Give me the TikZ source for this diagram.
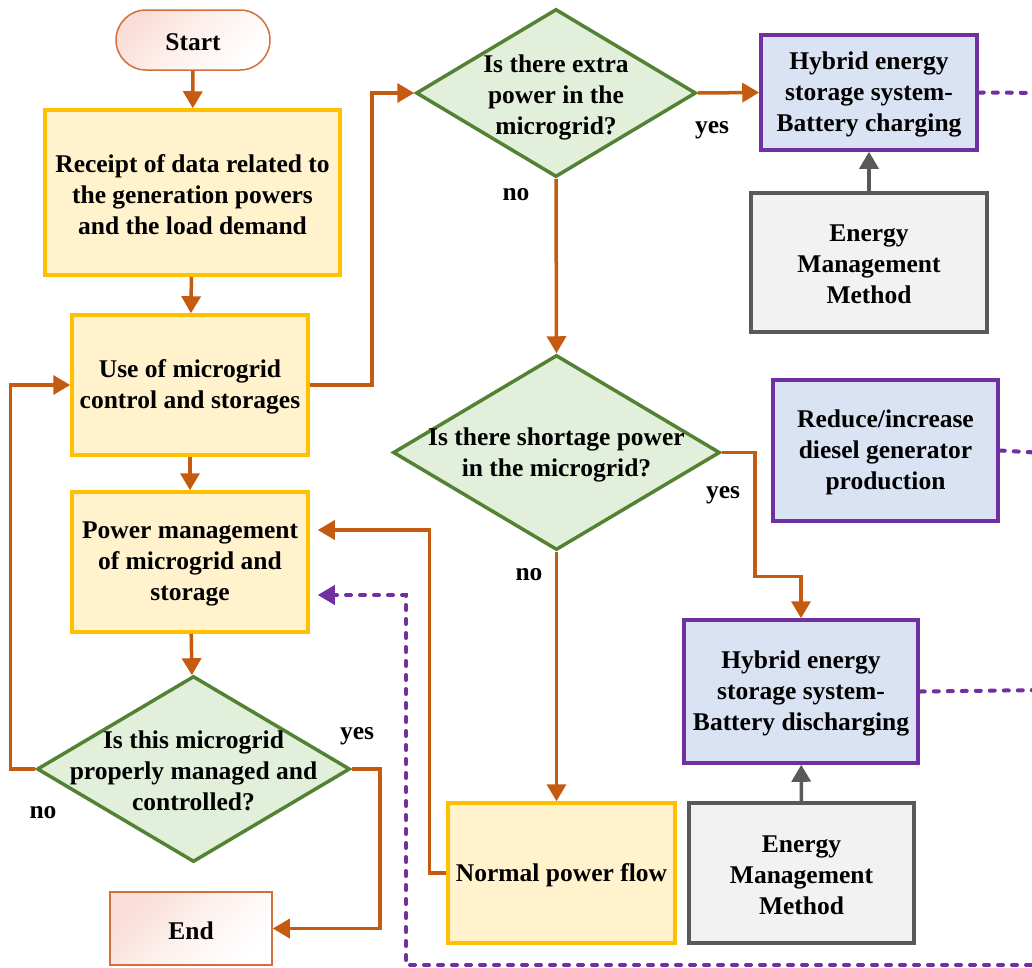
\documentclass[tikz,border=0pt]{standalone}
\usepackage{fontspec}
\setmainfont{Liberation Serif}
\usetikzlibrary{shapes.geometric,arrows.meta,calc}
\definecolor{conn}{HTML}{C55A11}
\definecolor{ylw}{HTML}{FFC000}
\definecolor{ylwfill}{HTML}{FFF2CC}
\definecolor{grn}{HTML}{548235}
\definecolor{grnfill}{HTML}{E2EFDA}
\definecolor{purp}{HTML}{7030A0}
\definecolor{bluefill}{HTML}{DAE3F3}
\definecolor{gry}{HTML}{595959}
\definecolor{gryfill}{HTML}{F2F2F2}
\definecolor{term}{HTML}{D0703A}
\definecolor{termfill}{HTML}{FADDD6}
\begin{document}
\begin{tikzpicture}[x=1pt,y=-1pt,
  every node/.style={font=\fontsize{25.5}{31}\selectfont\bfseries, align=center, inner sep=0pt},
  txt/.style={yshift=-2pt},
  ybox/.style={draw=ylw, fill=ylwfill, line width=3.5pt, rectangle},
  pbox/.style={draw=purp, fill=bluefill, line width=3.5pt, rectangle},
  gbox/.style={draw=gry, fill=gryfill, line width=3.5pt, rectangle},
  dia/.style={draw=grn, fill=grnfill, line width=3.5pt, shape=diamond, inner sep=0pt},
  termbox/.style={draw=term, line width=1.5pt, top color=termfill, bottom color=white, middle color=white!60!termfill, shading angle=45},
  arr/.style={draw=conn, line width=3.5pt, -{Triangle[length=17pt,width=19pt]}},
  garr/.style={draw=gry, line width=3.5pt, -{Triangle[length=17pt,width=19pt]}},
  dotline/.style={draw=purp, line width=4pt, dash pattern=on 5pt off 9pt, line cap=round},
  dotarr/.style={dotline, -{Triangle[length=17pt,width=19pt]}},
]
\useasboundingbox (0,0) rectangle (1032,967);
% left column
\node[termbox, rounded corners=30pt, minimum width=154pt, minimum height=60pt] (start) at (193,40) {};
\node[txt] (startt) at (start) {Start};
\node[ybox, minimum width=295pt, minimum height=165pt] (rec) at (192.5,192.5) {};
\node[txt] (rect) at (rec) {Receipt of data related to\\the generation powers\\and the load demand};
\node[ybox, minimum width=236pt, minimum height=140pt] (use) at (190,385) {};
\node[txt] (uset) at (use) {Use of microgrid\\control and storages};
\node[ybox, minimum width=236pt, minimum height=140pt] (pm) at (190,562) {};
\node[txt] (pmt) at (pm) {Power management\\of microgrid and\\storage};
\node[dia, minimum width=313pt, minimum height=186pt] (d3) at (193.5,769) {};
\node[txt] (d3t) at (d3) {Is this microgrid\\properly managed and\\controlled?};
\node[termbox, minimum width=162pt, minimum height=73pt] (end) at (191,928.5) {};
\node[txt] (endt) at (end) {End};
% middle column
\node[dia, minimum width=280pt, minimum height=168pt] (d1) at (556,93) {};
\node[txt] (d1t) at (556,95) {Is there extra\\power in the\\microgrid?};
\node[dia, minimum width=327pt, minimum height=195pt] (d2) at (556.5,452.5) {};
\node[txt] (d2t) at (d2) {Is there shortage power\\in the microgrid?};
\node[ybox, minimum width=227pt, minimum height=140pt] (normal) at (561.5,873) {};
\node[txt] (normalt) at (normal) {Normal power flow};
% right column
\node[pbox, minimum width=216pt, minimum height=115pt] (hyb1) at (869,92.5) {};
\node[txt] (hyb1t) at (hyb1) {Hybrid energy\\storage system-\\Battery charging};
\node[gbox, minimum width=236pt, minimum height=139pt] (emm1) at (869,262.5) {};
\node[txt] (emm1t) at (emm1) {Energy\\Management\\Method};
\node[pbox, minimum width=225pt, minimum height=141pt] (red) at (885.5,450.5) {};
\node[txt] (redt) at (red) {Reduce/increase\\diesel generator\\production};
\node[pbox, minimum width=234pt, minimum height=143pt] (hyb2) at (801,691.5) {};
\node[txt] (hyb2t) at (hyb2) {Hybrid energy\\storage system-\\Battery discharging};
\node[gbox, minimum width=225pt, minimum height=140pt] (emm2) at (801.5,873) {};
\node[txt] (emm2t) at (emm2) {Energy\\Management\\Method};
% labels
\node[txt] (yes1) at (712,128) {yes};
\node[txt] (no1) at (516,193) {no};
\node[txt] (yes2) at (723,493) {yes};
\node[txt] (no2) at (529,573) {no};
\node[txt] (yes3) at (357,734) {yes};
\node[txt] (no3) at (43,811) {no};
% off-page coordinates
\coordinate (eA) at (1045,93);
\coordinate (eB) at (1045,453);
\coordinate (eC) at (1045,690);
\coordinate (eD) at (1045,965);
% connectors
\draw[arr] (start) -- (rec);
\draw[arr] (rec) -- (use);
\draw[arr] (use) -- (pm);
\draw[arr] (pm) -- (d3);
\draw[arr] (d3.east) -- ++(28,0) |- (end.east);
\draw[arr] (d3.west) -- ++(-25,0) |- (use.west);
\draw[arr] (use.east) -- ++(62,0) |- (d1.west);
\draw[arr] (d1.east) -- (hyb1.west);
\draw[arr] (d1.south) -- (d2.north);
\draw[arr] (d2.east) -- ++(33,0) -- ++(0,124) -| (hyb2.north);
\draw[arr] (d2.south) -- (d2.south |- normal.north);
\draw[arr] (normal.west) -- ++(-17,0) |- ($(pm.east)+(8,-32)$);
\draw[garr] (emm1) -- (hyb1);
\draw[garr] (emm2) -- (hyb2);
\draw[dotline] (hyb1.east) -- (eA);
\draw[dotline] (red.east) -- (eB);
\draw[dotline] (hyb2.east) -- (eC);
\draw[dotarr] (eD) -- (406,965) -- (406,595) -- ($(pm.east)+(8,33)$);
\end{tikzpicture}
\end{document}
